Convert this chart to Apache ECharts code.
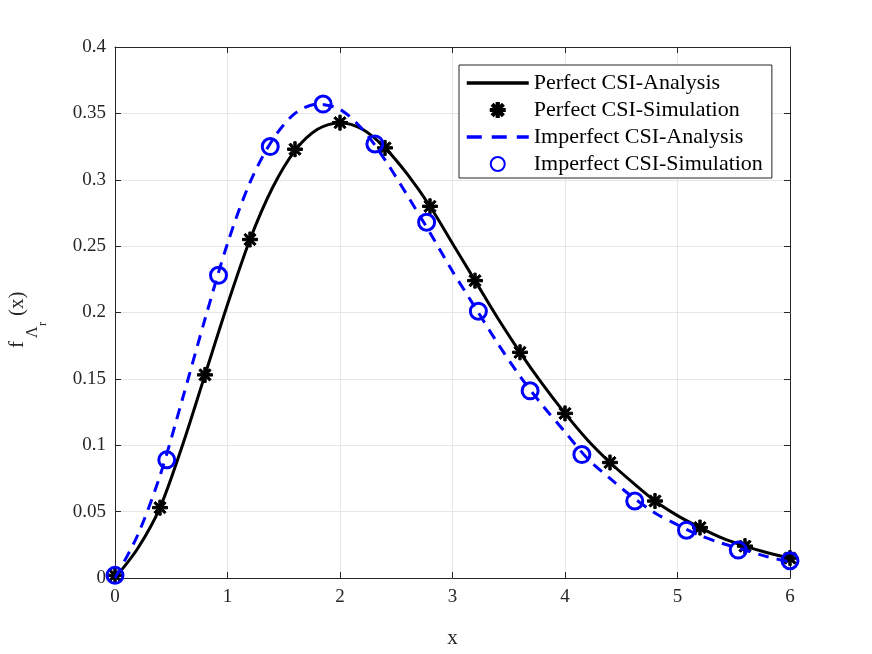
<!DOCTYPE html>
<html>
<head>
<meta charset="utf-8">
<script src="https://cdn.jsdelivr.net/npm/echarts@6/dist/echarts.min.js"></script>
<style>
  html, body { margin: 0; padding: 0; background: #fff; }
  #chart-container { width: 872px; height: 654px; }
</style>
</head>
<body>
<div id="chart-container"></div>
<script>
// analysis curves, every 0.2
var analysisX = [0, 0.2, 0.4, 0.6, 0.8, 1.0, 1.2, 1.4, 1.6, 1.8, 2.0, 2.2, 2.4, 2.6, 2.8, 3.0,
  3.2, 3.4, 3.6, 3.8, 4.0, 4.2, 4.4, 4.6, 4.8, 5.0, 5.2, 5.4, 5.6, 5.8, 6.0];
var perfectAnalysis = [0, 0.022, 0.053, 0.10, 0.153, 0.206, 0.255, 0.294, 0.322, 0.338, 0.343,
  0.338, 0.324, 0.304, 0.280, 0.252, 0.224, 0.196, 0.170, 0.146, 0.124, 0.104, 0.087, 0.072,
  0.058, 0.047, 0.038, 0.030, 0.024, 0.019, 0.015];
var imperfectAnalysis = [0, 0.032, 0.077, 0.135, 0.195, 0.252, 0.298, 0.330, 0.350, 0.357, 0.353,
  0.338, 0.315, 0.288, 0.260, 0.231, 0.204, 0.177, 0.152, 0.130, 0.110, 0.090, 0.075, 0.061,
  0.049, 0.040, 0.032, 0.026, 0.021, 0.016, 0.012];

// simulation markers
var perfectSimX = [0, 0.4, 0.8, 1.2, 1.6, 2.0, 2.4, 2.8, 3.2, 3.6, 4.0, 4.4, 4.8, 5.2, 5.6, 6.0];
var perfectSim = [0.002, 0.053, 0.153, 0.255, 0.323, 0.343, 0.324, 0.280, 0.224, 0.170, 0.124,
  0.087, 0.058, 0.038, 0.024, 0.015];
var imperfectSimX = [0, 0.46, 0.92, 1.38, 1.85, 2.31, 2.77, 3.23, 3.69, 4.15, 4.62, 5.08, 5.54, 6.0];
var imperfectSim = [0.002, 0.089, 0.228, 0.325, 0.357, 0.327, 0.268, 0.201, 0.141, 0.093, 0.058,
  0.036, 0.021, 0.013];

var seriesNames = ['Perfect CSI-Analysis', 'Perfect CSI-Simulation',
  'Imperfect CSI-Analysis', 'Imperfect CSI-Simulation'];

function pairs(xs, ys) {
  return xs.map(function (x, i) { return [x, ys[i]]; });
}

var FONT = 'Liberation Serif';
var AXIS = '#262626';

// matlab-like '*' marker
var starPath = 'path://M-1.6,-10L1.6,-10L1.6,10L-1.6,10Z' +
  'M-10,-1.6L10,-1.6L10,1.6L-10,1.6Z' +
  'M-5.94,-8.2L8.2,5.94L5.94,8.2L-8.2,-5.94Z' +
  'M-8.2,5.94L5.94,-8.2L8.2,-5.94L-5.94,8.2Z';

var dom = document.getElementById('chart-container');
var myChart = echarts.init(dom, null, { renderer: 'canvas' });

var option = {
  animation: false,
  backgroundColor: '#fff',
  textStyle: { fontFamily: FONT },
  grid: { left: 115, right: 82, top: 47, bottom: 75 },
  legend: {
    orient: 'vertical',
    left: 459,
    top: 65,
    padding: [7, 9, 3, 6],
    itemWidth: 62,
    itemHeight: 14,
    itemGap: 5,
    backgroundColor: '#fff',
    borderColor: AXIS,
    borderWidth: 1,
    borderRadius: 0,
    textStyle: { fontFamily: FONT, fontSize: 22, color: '#000', lineHeight: 22 },
    data: [
      { name: seriesNames[0], itemStyle: { opacity: 0 }, lineStyle: { width: 3.5 } },
      { name: seriesNames[1] },
      { name: seriesNames[2], itemStyle: { opacity: 0 }, lineStyle: { width: 3.5, type: [15, 10] } },
      { name: seriesNames[3] }
    ]
  },
  xAxis: [
    {
      type: 'value', min: 0, max: 6, interval: 1,
      name: 'x', nameLocation: 'middle', nameGap: 50,
      nameTextStyle: { fontFamily: FONT, fontSize: 21, color: AXIS },
      axisLine: { onZero: false, lineStyle: { color: AXIS, width: 1 } },
      axisTick: { inside: true, length: 6, lineStyle: { color: AXIS } },
      axisLabel: { fontFamily: FONT, fontSize: 19, color: AXIS, margin: 10 },
      splitLine: { show: true, lineStyle: { color: '#e6e6e6', width: 1 } }
    },
    {
      type: 'value', min: 0, max: 6, interval: 1, position: 'top',
      axisLine: { onZero: false, lineStyle: { color: AXIS, width: 1 } },
      axisTick: { inside: true, length: 6, lineStyle: { color: AXIS } },
      axisLabel: { show: false },
      splitLine: { show: false }
    }
  ],
  yAxis: [
    {
      type: 'value', min: 0, max: 0.4, interval: 0.05,
      axisLine: { show: true, onZero: false, lineStyle: { color: AXIS, width: 1 } },
      axisTick: { show: true, inside: true, length: 6, lineStyle: { color: AXIS } },
      axisLabel: { fontFamily: FONT, fontSize: 19, color: AXIS, margin: 9 },
      splitLine: { show: true, lineStyle: { color: '#e6e6e6', width: 1 } }
    },
    {
      type: 'value', min: 0, max: 0.4, interval: 0.05, position: 'right',
      axisLine: { show: true, onZero: false, lineStyle: { color: AXIS, width: 1 } },
      axisTick: { show: true, inside: true, length: 6, lineStyle: { color: AXIS } },
      axisLabel: { show: false },
      splitLine: { show: false }
    }
  ],
  graphic: [
    {
      // rotated y label: f with subscript Lambda_r, then (x)
      type: 'group',
      x: 0, y: 318,
      rotation: Math.PI / 2,
      children: [
        { type: 'text', x: -30, y: 28, style: { text: 'f', font: '21px "Liberation Serif"', fill: AXIS, verticalAlign: 'bottom' } },
        { type: 'text', x: -20, y: 41, style: { text: 'Λ', font: '16px "Liberation Serif"', fill: AXIS, verticalAlign: 'bottom' } },
        { type: 'text', x: -8, y: 49, style: { text: 'r', font: '12px "Liberation Serif"', fill: AXIS, verticalAlign: 'bottom' } },
        { type: 'text', x: 2, y: 28, style: { text: '(x)', font: '21px "Liberation Serif"', fill: AXIS, verticalAlign: 'bottom' } }
      ]
    }
  ],
  series: [
    {
      name: seriesNames[0],
      type: 'line',
      data: pairs(analysisX, perfectAnalysis),
      symbol: 'none',
      smooth: 0.3,
      color: '#000',
      lineStyle: { color: '#000', width: 3 },
      z: 2
    },
    {
      name: seriesNames[1],
      type: 'scatter',
      data: pairs(perfectSimX, perfectSim),
      symbol: starPath,
      symbolSize: 15,
      itemStyle: { color: '#000', borderColor: '#000', borderWidth: 1, opacity: 1 },
      z: 3
    },
    {
      name: seriesNames[2],
      type: 'line',
      data: pairs(analysisX, imperfectAnalysis),
      symbol: 'none',
      smooth: 0.3,
      color: '#0000ff',
      lineStyle: { color: '#0000ff', width: 3, type: [11, 8] },
      z: 4
    },
    {
      name: seriesNames[3],
      type: 'scatter',
      data: pairs(imperfectSimX, imperfectSim),
      symbol: 'circle',
      symbolSize: 16,
      itemStyle: { color: 'rgba(0,0,0,0)', borderColor: '#0000ff', borderWidth: 3, opacity: 1 },
      z: 5
    }
  ]
};

myChart.setOption(option);
window.addEventListener('resize', myChart.resize);
</script>
</body>
</html>
